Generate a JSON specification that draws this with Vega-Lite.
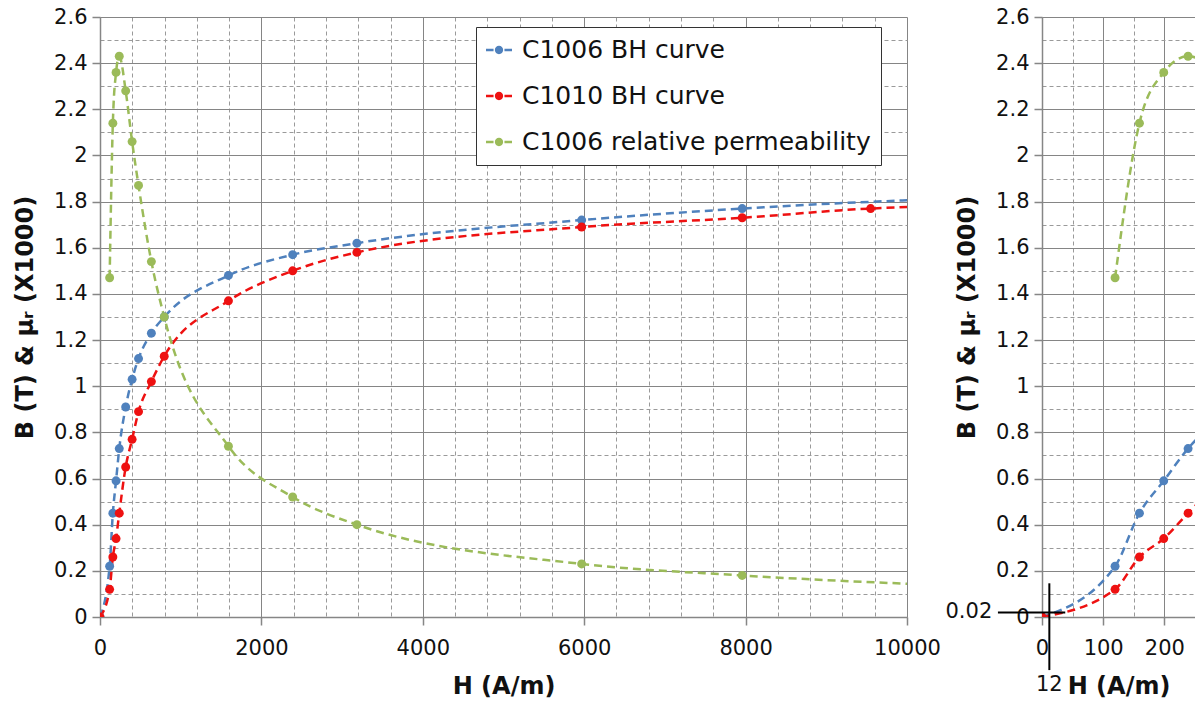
{
  "$schema": "https://vega.github.io/schema/vega-lite/v6.json",
  "background": "white",
  "padding": {"left": 13, "top": 6, "right": 0, "bottom": 0},
  "bounds": "flush",
  "spacing": 135,
  "config": {
    "font": "DejaVu Sans",
    "view": {"stroke": null},
    "axis": {
      "labelFont": "DejaVu Sans",
      "labelFontSize": 21,
      "labelColor": "#111111",
      "titleFont": "DejaVu Sans",
      "titleFontSize": 24,
      "titleFontWeight": "bold",
      "titleColor": "#111111",
      "domainColor": "#868686",
      "domainWidth": 1.5,
      "tickColor": "#868686",
      "tickSize": 8,
      "tickWidth": 1.5,
      "gridWidth": 1,
      "labelOverlap": false,
      "labelFlush": false
    },
    "legend": {
      "title": null,
      "orient": "none",
      "legendX": 376,
      "legendY": 10,
      "padding": 10,
      "fillColor": "white",
      "strokeColor": "#333333",
      "labelFont": "DejaVu Sans",
      "labelFontSize": 25,
      "labelColor": "#111111",
      "labelLimit": 600,
      "labelOffset": 10,
      "rowPadding": 20,
      "symbolType": "M-1,-0.1H-0.42V0.1H-1Z M0.42,-0.1H1V0.1H0.42Z M-0.32,0A0.32,0.32,0,1,0,0.32,0A0.32,0.32,0,1,0,-0.32,0Z",
      "symbolSize": 676,
      "symbolOpacity": 1,
      "symbolStrokeWidth": 0
    }
  },
  "datasets": {
    "bh": [
      {"H": 0, "v": 0, "series": "C1006 BH curve"},
      {"H": 119.4, "v": 0.22, "series": "C1006 BH curve"},
      {"H": 159.2, "v": 0.45, "series": "C1006 BH curve"},
      {"H": 198.9, "v": 0.59, "series": "C1006 BH curve"},
      {"H": 238.7, "v": 0.73, "series": "C1006 BH curve"},
      {"H": 318.3, "v": 0.91, "series": "C1006 BH curve"},
      {"H": 397.9, "v": 1.03, "series": "C1006 BH curve"},
      {"H": 477.5, "v": 1.12, "series": "C1006 BH curve"},
      {"H": 636.6, "v": 1.23, "series": "C1006 BH curve"},
      {"H": 795.8, "v": 1.30, "series": "C1006 BH curve"},
      {"H": 1591.5, "v": 1.48, "series": "C1006 BH curve"},
      {"H": 2387.3, "v": 1.57, "series": "C1006 BH curve"},
      {"H": 3183.1, "v": 1.62, "series": "C1006 BH curve"},
      {"H": 5968.3, "v": 1.72, "series": "C1006 BH curve"},
      {"H": 7957.7, "v": 1.77, "series": "C1006 BH curve"},
      {"H": 11936.6, "v": 1.83, "series": "C1006 BH curve"},
      {"H": 0, "v": 0, "series": "C1010 BH curve"},
      {"H": 119.4, "v": 0.12, "series": "C1010 BH curve"},
      {"H": 159.2, "v": 0.26, "series": "C1010 BH curve"},
      {"H": 198.9, "v": 0.34, "series": "C1010 BH curve"},
      {"H": 238.7, "v": 0.45, "series": "C1010 BH curve"},
      {"H": 318.3, "v": 0.65, "series": "C1010 BH curve"},
      {"H": 397.9, "v": 0.77, "series": "C1010 BH curve"},
      {"H": 477.5, "v": 0.89, "series": "C1010 BH curve"},
      {"H": 636.6, "v": 1.02, "series": "C1010 BH curve"},
      {"H": 795.8, "v": 1.13, "series": "C1010 BH curve"},
      {"H": 1591.5, "v": 1.37, "series": "C1010 BH curve"},
      {"H": 2387.3, "v": 1.50, "series": "C1010 BH curve"},
      {"H": 3183.1, "v": 1.58, "series": "C1010 BH curve"},
      {"H": 5968.3, "v": 1.69, "series": "C1010 BH curve"},
      {"H": 7957.7, "v": 1.73, "series": "C1010 BH curve"},
      {"H": 9549.3, "v": 1.77, "series": "C1010 BH curve"},
      {"H": 11936.6, "v": 1.79, "series": "C1010 BH curve"},
      {"H": 119.4, "v": 1.47, "series": "C1006 relative permeability"},
      {"H": 159.2, "v": 2.14, "series": "C1006 relative permeability"},
      {"H": 198.9, "v": 2.36, "series": "C1006 relative permeability"},
      {"H": 238.7, "v": 2.43, "series": "C1006 relative permeability"},
      {"H": 318.3, "v": 2.28, "series": "C1006 relative permeability"},
      {"H": 397.9, "v": 2.06, "series": "C1006 relative permeability"},
      {"H": 477.5, "v": 1.87, "series": "C1006 relative permeability"},
      {"H": 636.6, "v": 1.54, "series": "C1006 relative permeability"},
      {"H": 795.8, "v": 1.30, "series": "C1006 relative permeability"},
      {"H": 1591.5, "v": 0.74, "series": "C1006 relative permeability"},
      {"H": 2387.3, "v": 0.52, "series": "C1006 relative permeability"},
      {"H": 3183.1, "v": 0.40, "series": "C1006 relative permeability"},
      {"H": 5968.3, "v": 0.23, "series": "C1006 relative permeability"},
      {"H": 7957.7, "v": 0.18, "series": "C1006 relative permeability"},
      {"H": 11936.6, "v": 0.12, "series": "C1006 relative permeability"}
    ],
    "note": [
      {"H": 12, "v": 0.02, "hlabel": "0.02", "vlabel": "12"}
    ]
  },
  "resolve": {"scale": {"color": "independent"}, "legend": {"color": "independent"}},
  "hconcat": [
    {
      "width": 807,
      "height": 600,
      "data": {"name": "bh"},
      "encoding": {
        "x": {
          "field": "H", "type": "quantitative",
          "scale": {"domain": [0, 10000], "nice": false, "zero": false},
          "title": "H (A/m)",
          "axis": {
            "values": [0,400,800,1200,1600,2000,2400,2800,3200,3600,4000,4400,4800,5200,5600,6000,6400,6800,7200,7600,8000,8400,8800,9200,9600,10000],
            "format": "d",
            "labelExpr": "datum.value % 2000 == 0 ? datum.label : ''",
            "labelPadding": 12,
            "titlePadding": 16,
            "tickOpacity": {"condition": {"test": "datum.value % 2000 == 0", "value": 1}, "value": 0},
            "gridDash": {"condition": {"test": "datum.value % 2000 == 0", "value": []}, "value": [4, 3]},
            "gridColor": {"condition": {"test": "datum.value % 2000 == 0", "value": "#858585"}, "value": "#9a9a9a"}
          }
        },
        "y": {
          "field": "v", "type": "quantitative",
          "scale": {"domain": [0, 2.6], "nice": false, "zero": false},
          "title": "B (T) & μᵣ (X1000)",
          "axis": {
            "values": [0,0.1,0.2,0.3,0.4,0.5,0.6,0.7,0.8,0.9,1,1.1,1.2,1.3,1.4,1.5,1.6,1.7,1.8,1.9,2,2.1,2.2,2.3,2.4,2.5,2.6],
            "format": "~g",
            "labelExpr": "round(datum.value*10) % 2 == 0 ? datum.label : ''",
            "labelPadding": 5,
            "titlePadding": 16,
            "tickOpacity": {"condition": {"test": "round(datum.value*10) % 2 == 0", "value": 1}, "value": 0},
            "gridDash": {"condition": {"test": "round(datum.value*10) % 2 == 0", "value": []}, "value": [4, 3]},
            "gridColor": {"condition": {"test": "round(datum.value*10) % 2 == 0", "value": "#858585"}, "value": "#9a9a9a"}
          }
        },
        "color": {
          "field": "series", "type": "nominal",
          "sort": ["C1006 BH curve", "C1010 BH curve", "C1006 relative permeability"],
          "scale": {"domain": ["C1006 BH curve", "C1010 BH curve", "C1006 relative permeability"], "range": ["#4f81bd", "#ee1111", "#9bbb59"]}
        }
      },
      "layer": [
        {
          "mark": {"type": "line", "strokeDash": [8, 5], "strokeWidth": 2.5, "interpolate": "monotone", "clip": true}
        },
        {
          "mark": {"type": "point", "filled": true, "size": 80, "opacity": 1, "clip": true}
        }
      ]
    },
    {
      "width": 153,
      "height": 600,
      "encoding": {
        "x": {
          "field": "H", "type": "quantitative",
          "scale": {"domain": [0, 250], "nice": false, "zero": false},
          "title": "H (A/m)",
          "axis": {
            "values": [0, 50, 100, 150, 200, 250],
            "format": "d",
            "labelExpr": "datum.value % 100 == 0 ? datum.label : ''",
            "labelPadding": 12,
            "titlePadding": 16,
            "tickOpacity": {"condition": {"test": "datum.value % 100 == 0", "value": 1}, "value": 0},
            "gridDash": {"condition": {"test": "datum.value % 100 == 0", "value": []}, "value": [4, 3]},
            "gridColor": {"condition": {"test": "datum.value % 100 == 0", "value": "#858585"}, "value": "#9a9a9a"}
          }
        },
        "y": {
          "field": "v", "type": "quantitative",
          "scale": {"domain": [0, 2.6], "nice": false, "zero": false},
          "title": "B (T) & μᵣ (X1000)",
          "axis": {
            "values": [0,0.1,0.2,0.3,0.4,0.5,0.6,0.7,0.8,0.9,1,1.1,1.2,1.3,1.4,1.5,1.6,1.7,1.8,1.9,2,2.1,2.2,2.3,2.4,2.5,2.6],
            "format": "~g",
            "labelExpr": "round(datum.value*10) % 2 == 0 ? datum.label : ''",
            "labelPadding": 5,
            "titlePadding": 16,
            "tickOpacity": {"condition": {"test": "round(datum.value*10) % 2 == 0", "value": 1}, "value": 0},
            "gridDash": {"condition": {"test": "round(datum.value*10) % 2 == 0", "value": []}, "value": [4, 3]},
            "gridColor": {"condition": {"test": "round(datum.value*10) % 2 == 0", "value": "#858585"}, "value": "#9a9a9a"}
          }
        }
      },
      "layer": [
        {
          "data": {"name": "bh"},
          "mark": {"type": "line", "strokeDash": [8, 5], "strokeWidth": 2.5, "interpolate": "monotone", "clip": true},
          "encoding": {
            "color": {
              "field": "series", "type": "nominal",
              "scale": {"domain": ["C1006 BH curve", "C1010 BH curve", "C1006 relative permeability"], "range": ["#4f81bd", "#ee1111", "#9bbb59"]},
              "legend": null
            }
          }
        },
        {
          "data": {"name": "bh"},
          "mark": {"type": "point", "filled": true, "size": 80, "opacity": 1, "clip": true},
          "encoding": {
            "color": {
              "field": "series", "type": "nominal",
              "scale": {"domain": ["C1006 BH curve", "C1010 BH curve", "C1006 relative permeability"], "range": ["#4f81bd", "#ee1111", "#9bbb59"]},
              "legend": null
            }
          }
        },
        {
          "data": {"name": "note"},
          "mark": {"type": "rule", "color": "black", "strokeWidth": 2},
          "encoding": {"x": {"datum": -72}, "x2": {"datum": 38}, "y": {"field": "v", "type": "quantitative"}}
        },
        {
          "data": {"name": "note"},
          "mark": {"type": "rule", "color": "black", "strokeWidth": 2},
          "encoding": {"x": {"field": "H", "type": "quantitative"}, "y": {"datum": 0.146}, "y2": {"datum": -0.23}}
        },
        {
          "data": {"name": "note"},
          "mark": {"type": "text", "align": "right", "baseline": "middle", "fontSize": 21, "font": "DejaVu Sans", "color": "#111111", "dx": -2},
          "encoding": {"x": {"datum": -78}, "y": {"field": "v", "type": "quantitative"}, "text": {"field": "hlabel"}}
        },
        {
          "data": {"name": "note"},
          "mark": {"type": "text", "align": "center", "baseline": "middle", "fontSize": 21, "font": "DejaVu Sans", "color": "#111111"},
          "encoding": {"x": {"field": "H", "type": "quantitative"}, "y": {"datum": -0.295}, "text": {"field": "vlabel"}}
        }
      ]
    }
  ]
}
